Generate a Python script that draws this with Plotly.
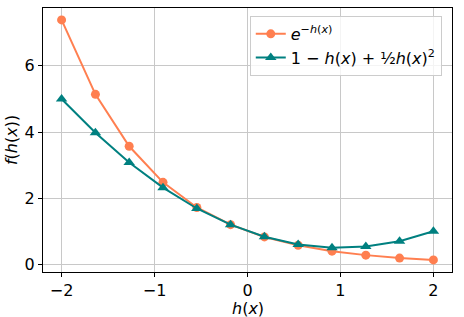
import plotly.graph_objects as go

h_vals = [-2.0, -1.636, -1.273, -0.909, -0.545, -0.182, 0.182, 0.545, 0.909, 1.273, 1.636, 2.0]
exp_vals = [7.39, 5.14, 3.57, 2.48, 1.72, 1.20, 0.83, 0.58, 0.40, 0.28, 0.19, 0.135]
taylor_vals = [5.0, 3.98, 3.08, 2.32, 1.69, 1.20, 0.835, 0.60, 0.50, 0.54, 0.70, 1.0]
x_ticks = [-2, -1, 0, 1, 2]
y_ticks = [0, 2, 4, 6]
x_title = "<i>h</i>(<i>x</i>)"
y_title = "<i>f</i>(<i>h</i>(<i>x</i>))"

font = "DejaVu Sans"
fig = go.Figure()
fig.add_trace(go.Scatter(x=h_vals, y=exp_vals, mode="lines+markers",
                         name="<i>e</i><sup>−<i>h</i>(<i>x</i>)</sup>",
                         line=dict(color="#FF7F50", width=2),
                         marker=dict(symbol="circle", size=9, color="#FF7F50")))
fig.add_trace(go.Scatter(x=h_vals, y=taylor_vals, mode="lines+markers",
                         name="1 − <i>h</i>(<i>x</i>) + ½<i>h</i>(<i>x</i>)<sup>2</sup>",
                         line=dict(color="#008080", width=2),
                         marker=dict(symbol="triangle-up", size=10, color="#008080")))

axis_common = dict(showgrid=True, gridcolor="#c8c8c8", gridwidth=1, zeroline=False,
                   showline=True, linecolor="black", linewidth=1, mirror=True,
                   ticks="outside", ticklen=4, tickcolor="black", automargin=False,
                   tickfont=dict(family=font, size=16, color="black"))
fig.update_xaxes(range=[-2.2, 2.2], tickvals=x_ticks, ticktext=["−2", "−1", "0", "1", "2"],
                 **axis_common)
fig.update_yaxes(range=[-0.23, 7.75], tickvals=y_ticks, **axis_common)
fig.add_annotation(text=x_title, xref="paper", yref="paper", x=0.5, y=-0.14,
                   xanchor="center", yanchor="middle", showarrow=False,
                   font=dict(family=font, size=16, color="black"))
fig.add_annotation(text=y_title, xref="paper", yref="paper", x=-0.078, y=0.5,
                   xanchor="center", yanchor="middle", showarrow=False, textangle=-90,
                   font=dict(family=font, size=16, color="black"))
fig.update_layout(width=464, height=317, margin=dict(l=43, r=12, t=8, b=45),
                  plot_bgcolor="white", paper_bgcolor="white",
                  font=dict(family=font, size=16, color="black"),
                  legend=dict(x=0.975, y=0.97, xanchor="right", yanchor="top",
                              bgcolor="rgba(255,255,255,0.8)", bordercolor="#cccccc", borderwidth=1,
                              font=dict(family=font, size=16)),
                  showlegend=True)
fig.write_html("out.html", config={"displayModeBar": False},
               post_script="document.body.style.margin='0';")
